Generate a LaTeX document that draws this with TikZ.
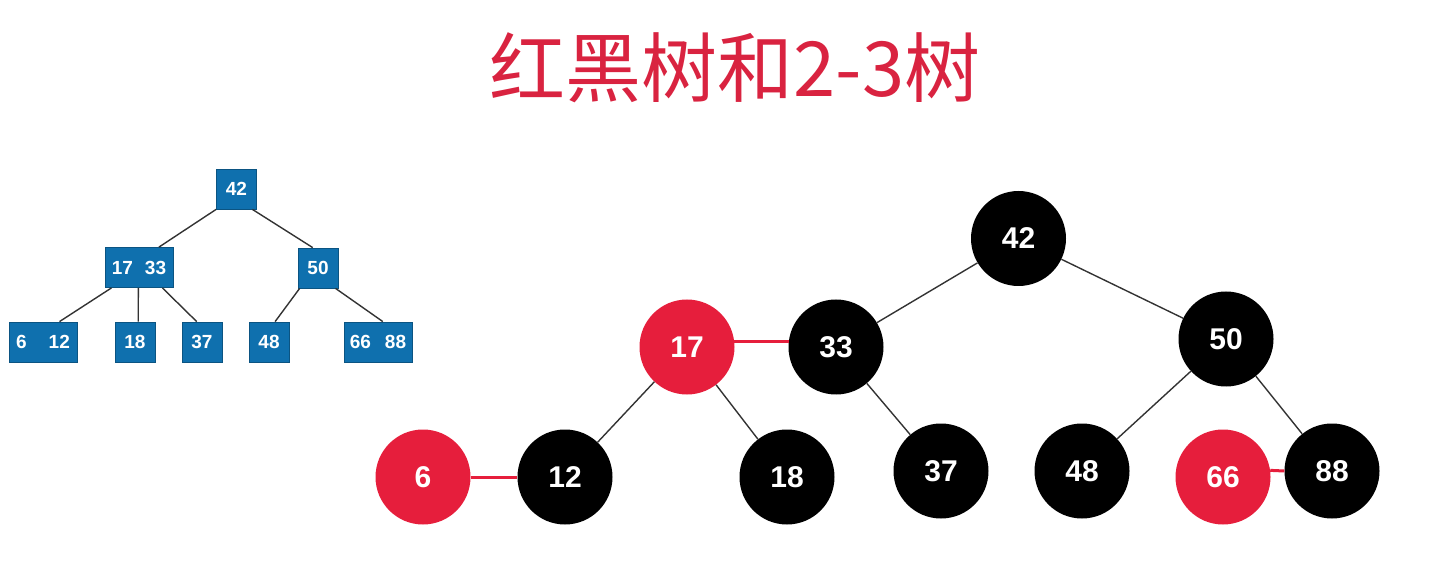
\documentclass[tikz,border=0pt]{standalone}
\usepackage{fontspec}
\setmainfont{Liberation Sans}
\newfontfamily\cjkfont{Noto Sans CJK SC}
\usetikzlibrary{calc}
\definecolor{rbred}{HTML}{E61E3C}
\definecolor{titlered}{HTML}{D92340}
\definecolor{treeblue}{HTML}{0F70AE}
\definecolor{edgegray}{HTML}{333333}

\begin{document}
\begin{tikzpicture}[x=1pt, y=-1pt,
  keybox/.style={draw=treeblue!75!black, line width=0.8pt, fill=treeblue, text=white,
    minimum height=40pt, inner sep=0pt, font=\fontsize{19}{19}\selectfont\bfseries},
  rbnode/.style={circle, text=white, minimum size=95pt, inner sep=0pt,
    font=\fontsize{30}{30}\selectfont\bfseries},
  treeline/.style={edgegray, line width=1.4pt},
  redlink/.style={rbred, line width=3pt}]
  \useasboundingbox (0,0) rectangle (1438,561);
  % Title
  \node[text=titlered, font=\cjkfont\fontsize{76}{76}\selectfont] (title) at (735,68) {红黑树和2-3树};
  % 2-3 tree
  \foreach \name/\x/\y/\w/\keys in {b42/236.5/189/40/42, b1733/139/267.5/68/17\hspace{12pt}33,
      b50/318/268/40/50, b612/43/342/68/6\hspace{22pt}12, b18/135/342/40/18,
      b37/202/342/40/37, b48/269/342/40/48, b6688/378/342/68/66\hspace{14pt}88}{
    \node[keybox, minimum width=\w pt] (\name) at (\x,\y) {\keys};
  }
  \foreach \a/\fa/\b/\fb in {b42/0/b1733/.79, b42/.89/b50/.37, b1733/.1/b612/.74,
      b1733/.49/b18/.58, b1733/.84/b37/.37, b50/.05/b48/.65, b50/.93/b6688/.57}{
    \draw[treeline] ($(\a.south west)!\fa!(\a.south east)$) -- ($(\b.north west)!\fb!(\b.north east)$);
  }
  % Red-black tree
  \foreach \name/\x/\y/\col in {42/1018.5/238.5/black, 17/687/347/rbred, 33/836/347/black,
      50/1226/339/black, 6/423/477/rbred, 12/565/477/black, 18/787/477/black,
      37/941/471/black, 48/1082/471/black, 66/1223/477/rbred, 88/1332/471/black}{
    \node[rbnode, fill=\col] (r\name) at (\x,\y) {\name};
  }
  \foreach \a/\b in {42/33, 42/50, 17/12, 17/18, 33/37, 50/48, 50/88}{
    \draw[treeline] (r\a) -- (r\b);
  }
  % red links
  \draw[redlink] (r6) -- (r12);
  \draw[redlink] (r17.7) -- (r33.173);
  \draw[redlink] (r66.8) -- (r88.west);
\end{tikzpicture}
\end{document}
